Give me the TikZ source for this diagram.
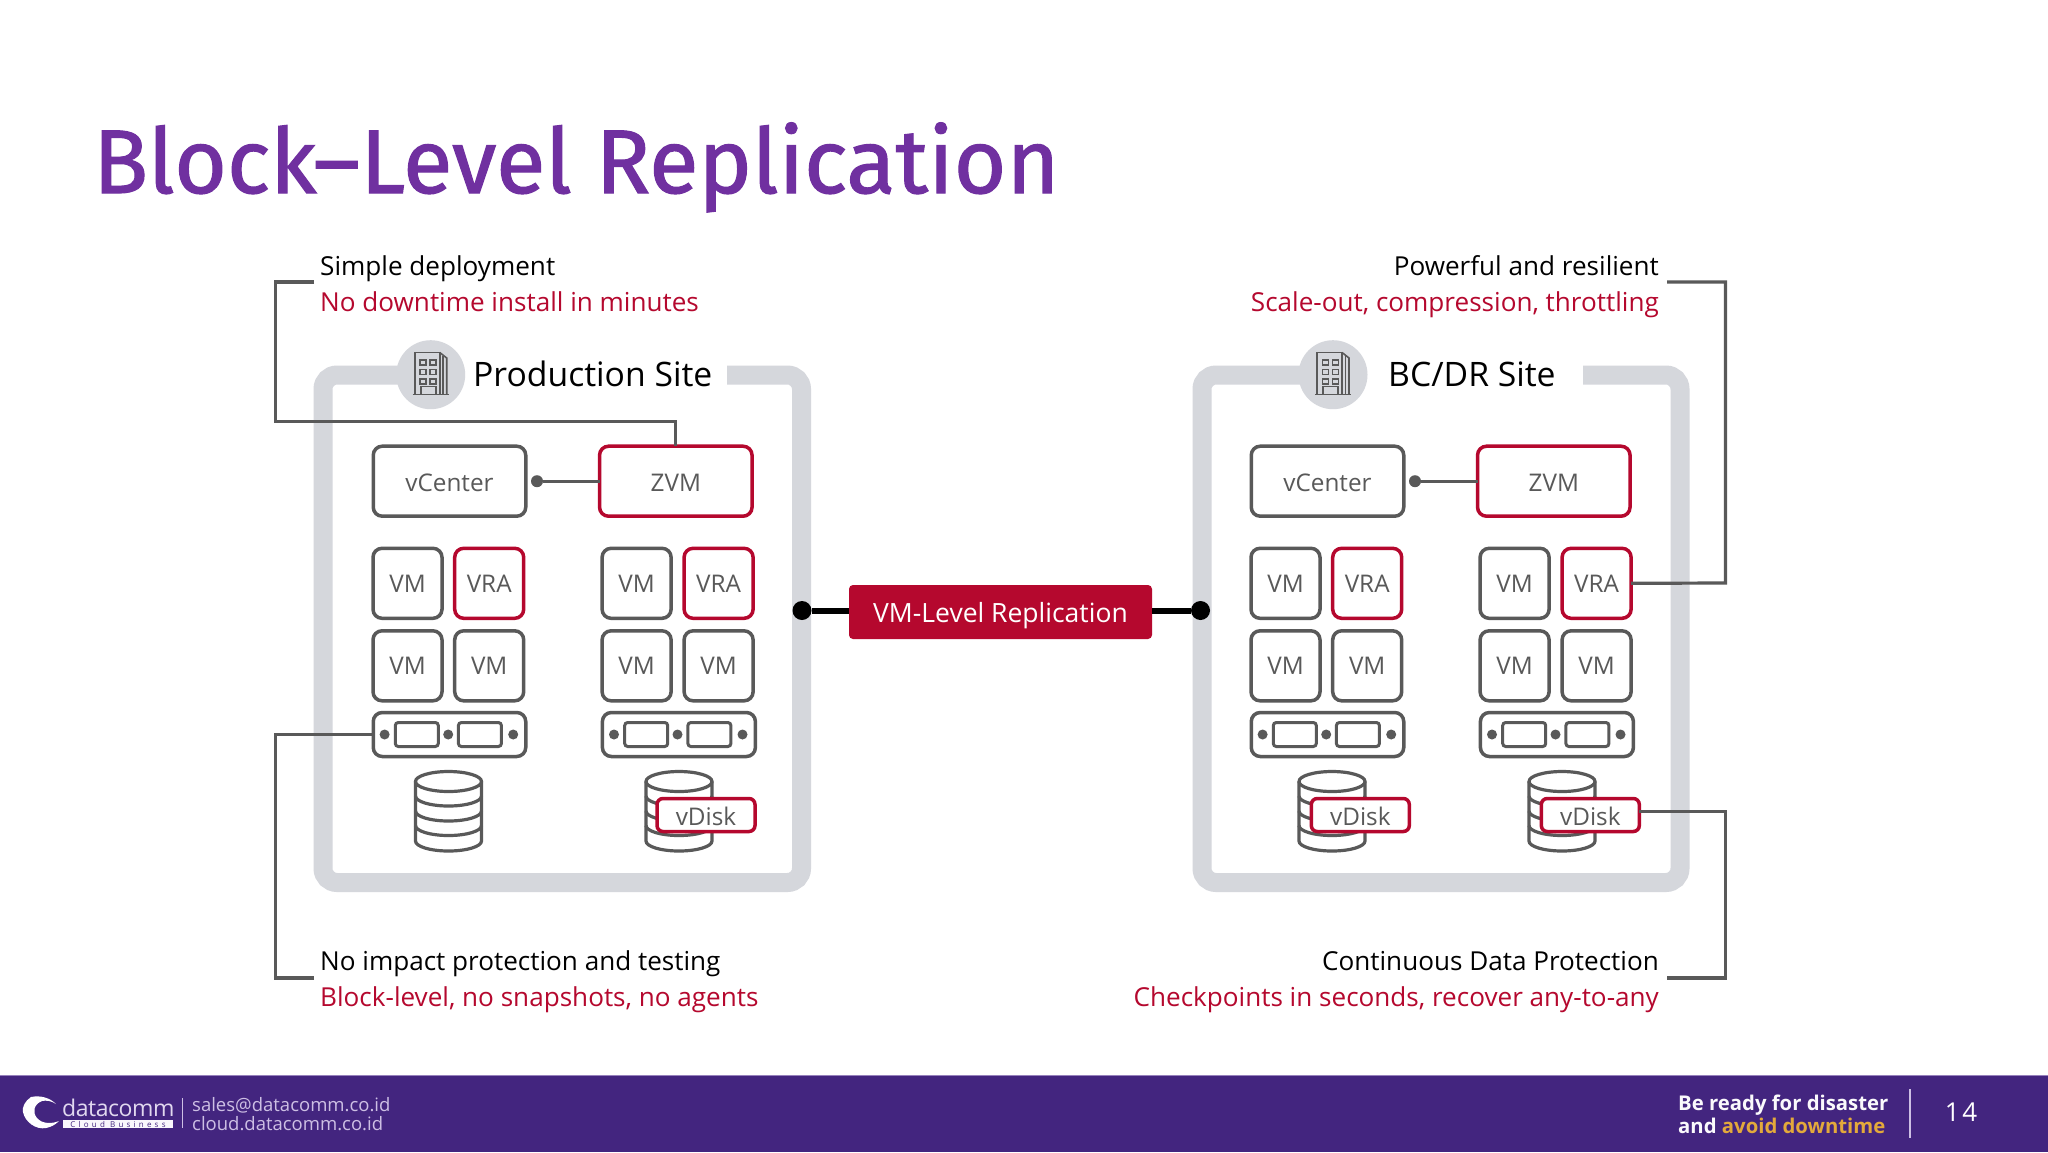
\documentclass[tikz,border=0pt]{standalone}
\usepackage{fontspec}
\setmainfont{Open Sans}
\newfontfamily\titlefont[FakeBold=1.2]{Fira Sans}
\definecolor{panelgray}{HTML}{D5D7DC}
\definecolor{linegray}{HTML}{595959}
\definecolor{zred}{HTML}{B5082E}
\definecolor{titlepurple}{HTML}{7030A0}
\definecolor{footpurple}{HTML}{43257F}
\definecolor{footlav}{HTML}{CDBFE4}
\definecolor{footgold}{HTML}{E3A93B}
\newcommand{\fs}[1]{\fontsize{#1}{#1}\selectfont}
\tikzset{
  panel/.style={draw=panelgray,line width=19pt,rounded corners=14pt},
  boxbase/.style={draw=linegray,fill=white,line width=3.5pt,rounded corners=9pt,text=linegray,font=\fs{24.3},inner sep=0pt,outer sep=0pt,text height=17.5pt,text depth=0pt},
  widebox/.style={boxbase,minimum width=152.5pt,minimum height=70pt,text height=20.5pt},
  vmbox/.style={boxbase,minimum width=69pt,minimum height=70pt},
  redb/.style={draw=zred},
  hostbar/.style={boxbase,minimum height=44pt},
  slot/.style={draw=linegray,fill=white,line width=3pt,rounded corners=3pt,minimum width=43pt,minimum height=24pt,inner sep=0pt},
  hdot/.style={circle,fill=linegray,minimum size=10pt,inner sep=0pt},
  cdot/.style={circle,fill=linegray,minimum size=12pt,inner sep=0pt},
  vdisk/.style={boxbase,draw=zred,rounded corners=6pt,minimum width=98pt,minimum height=33pt,text height=21pt},
  leader/.style={draw=linegray,line width=3.2pt},
  lab/.style={font=\fs{26.1},inner sep=0pt},
  sitehead/.style={font=\fs{33.7},inner sep=0pt},
  stor/.style={draw=linegray,fill=white,line width=3.2pt},
}
% site contents: #1 prefix, #2 x shift
\newcommand{\sitebody}[2]{%
  \begin{scope}[xshift=#2pt]
    \node[widebox] (#1vc) at (449.5,481.2) {vCenter};
    \node[widebox,redb] (#1zvm) at (675.8,481.2) {ZVM};
    \node[cdot] (#1dot) at (537,481.2) {};
    \draw[leader] (#1dot) -- (#1zvm);
    \node[vmbox] (#1a) at (407.5,583.3) {VM};
    \node[vmbox,redb] (#1b) at (489.2,583.3) {VRA};
    \node[vmbox] (#1c) at (407.5,665.8) {VM};
    \node[vmbox] (#1d) at (489.2,665.8) {VM};
    \node[vmbox] (#1e) at (636.6,583.3) {VM};
    \node[vmbox,redb] (#1f) at (718.6,583.3) {VRA};
    \node[vmbox] (#1g) at (636.6,665.8) {VM};
    \node[vmbox] (#1h) at (718.6,665.8) {VM};
    \node[hostbar,minimum width=152.5pt] (#1p) at (449.5,734.5) {};
    \node[slot] (#1p1) at (416.8,734.5) {};
    \node[slot] (#1p2) at (479.9,734.5) {};
    \node[hdot] (#1pd1) at (384.6,734.5) {};
    \node[hdot] (#1pd2) at (448.2,734.5) {};
    \node[hdot] (#1pd3) at (513.2,734.5) {};
    \node[hostbar,minimum width=153pt] (#1q) at (678.9,734.5) {};
    \node[slot] (#1q1) at (646.2,734.5) {};
    \node[slot] (#1q2) at (709.4,734.5) {};
    \node[hdot] (#1qd1) at (614,734.5) {};
    \node[hdot] (#1qd2) at (677.5,734.5) {};
    \node[hdot] (#1qd3) at (742.5,734.5) {};
  \end{scope}}
% cylinder centred at x = #1
\newcommand{\drum}[1]{%
  \begin{scope}[xshift=#1pt]
    \draw[stor] (-33,781.5) -- (-33,841) arc[start angle=180,end angle=0,x radius=33,y radius=10] -- (33,781.5);
    \draw[stor] (0,781.5) ellipse[x radius=33,y radius=10];
    \draw[stor,fill=none] (-33,796) arc[start angle=180,end angle=0,x radius=33,y radius=10];
    \draw[stor,fill=none] (-33,811) arc[start angle=180,end angle=0,x radius=33,y radius=10];
    \draw[stor,fill=none] (-33,825.5) arc[start angle=180,end angle=0,x radius=33,y radius=10];
  \end{scope}}
% building icon centred at x = #1
\newcommand{\bldg}[1]{%
  \begin{scope}[xshift=#1pt,draw=linegray,line width=1.6pt]
    \draw (-18,394.5) -- (18,394.5);
    \draw (-16,394.5) -- (-16,352.5) -- (9,352.5) -- (9,394.5);
    \draw (9,352.5) -- (16,358) -- (16,394.5);
    \draw (12.5,356) -- (12.5,394.5);
    \foreach \wy in {360,369.5,379}{
      \draw (-10.5,\wy) rectangle (-4.5,\wy+5);
      \draw (-0.5,\wy) rectangle (5.5,\wy+5);
    }
    \draw (-10,394.5) -- (-10,386.5) -- (5,386.5) -- (5,394.5);
  \end{scope}}
\begin{document}
\begin{tikzpicture}[x=1pt,y=-1pt]
\useasboundingbox (0,0) rectangle (2048,1152);
\fill[white] (0,0) rectangle (2048,1152);

% title
\node[anchor=base west,inner sep=0pt,text=titlepurple,font=\titlefont\fs{90.4}] (title) at (93,193) {Block–Level Replication};

% panels
\draw[panel] (430.7,375) -- (323,375) -- (323,882.5) -- (801.5,882.5) -- (801.5,375) -- (727,375);
\draw[panel] (1333,375) -- (1202,375) -- (1202,882.5) -- (1680,882.5) -- (1680,375) -- (1583,375);
\node[circle,fill=panelgray,minimum size=69pt,inner sep=0pt] (c1) at (430.7,374.7) {};
\node[circle,fill=panelgray,minimum size=69pt,inner sep=0pt] (c2) at (1333,374.7) {};
\bldg{430.7}
\bldg{1333}
\node[sitehead,anchor=base west] (h1) at (473,386.5) {Production Site};
\node[sitehead,anchor=base west] (h2) at (1388,386.5) {BC/DR Site};

\sitebody{s}{0}
\sitebody{t}{878}

% storage
\drum{448.5}
\drum{679}
\drum{1332}
\drum{1562}
\node[vdisk] (sv) at (706,815) {vDisk};
\node[vdisk] (tv1) at (1360.3,815) {vDisk};
\node[vdisk] (tv2) at (1590.3,815) {vDisk};

% replication link
\node[fill=zred,rounded corners=4pt,text=white,font=\fs{26.5},minimum width=303pt,minimum height=54pt,inner sep=0pt,text height=21pt,text depth=0pt] (rep) at (1000.5,612) {VM-Level Replication};
\node[circle,fill=black,minimum size=19pt,inner sep=0pt] (ld) at (802,610.5) {};
\node[circle,fill=black,minimum size=19pt,inner sep=0pt] (rd) at (1200.5,610.5) {};
\draw[black,line width=6pt] (ld) -- (ld -| rep.west);
\draw[black,line width=6pt] (rd -| rep.east) -- (rd);

% corner labels
\node[lab,anchor=base west] (l1) at (320,275.5) {Simple deployment};
\node[lab,anchor=base west,text=zred] (l1r) at (320,311) {No downtime install in minutes};
\node[lab,anchor=base east] (l2) at (1659,275.5) {Powerful and resilient};
\node[lab,anchor=base east,text=zred] (l2r) at (1659,311) {Scale-out, compression, throttling};
\node[lab,anchor=base west] (l3) at (320,970) {No impact protection and testing};
\node[lab,anchor=base west,text=zred] (l3r) at (320,1006.5) {Block-level, no snapshots, no agents};
\node[lab,anchor=base east] (l4) at (1659,970) {Continuous Data Protection};
\node[lab,anchor=base east,text=zred] (l4r) at (1659,1006.5) {Checkpoints in seconds, recover any-to-any};

% leaders
\coordinate (e1) at (314,282);
\coordinate (e2) at (1667,282);
\coordinate (e3) at (314,978);
\coordinate (e4) at (1667,978);
\draw[leader] (e1) -- (275.5,282) -- (275.5,421.5) -- (szvm.north |- 0,421.5) -- (szvm.north);
\draw[leader] (e2) -- (1725.5,282) -- (1725.5,583) -- (tf.east);
\draw[leader] (e3) -- (275.5,978) -- (275.5,734.5) -- (sp.west);
\draw[leader] (e4) -- (1725.5,978) -- (1725.5,811.5) -- (tv2.east |- 0,811.5);

% footer
\fill[footpurple] (0,1075) rectangle (2048,1152);
\draw[footlav!60!footpurple,line width=1pt] (0,1075) -- (2048,1075);
\fill[white] (31,1097) .. controls (25,1101) and (22,1107) .. (23,1112)
  .. controls (25,1122) and (36,1130) .. (46,1128)
  .. controls (51,1127) and (55,1125) .. (59,1121)
  .. controls (52,1124) and (42,1124) .. (37,1118)
  .. controls (32,1112) and (34,1104) .. (42,1101)
  .. controls (46,1100) and (52,1101) .. (56,1104)
  .. controls (50,1098) and (41,1095) .. (31,1097) -- cycle;
\node[anchor=base west,inner sep=0pt,text=footlav!60!white,font=\fs{23}] (dc) at (62,1116.5) {\addfontfeature{LetterSpace=-2}datacomm};
\node[fill=white!88!footlav,minimum width=110pt,minimum height=8.5pt,inner sep=0pt,text=footpurple,font=\fs{8}] (cb) at (118,1124) {\addfontfeature{LetterSpace=40}Cloud Business};
\draw[footlav,line width=1pt] (182,1098) -- (182,1128);
\node[anchor=base west,inner sep=0pt,text=footlav,font=\fs{18.5}] (m1) at (192,1111.5) {sales@datacomm.co.id};
\node[anchor=base west,inner sep=0pt,text=footlav,font=\fs{18.5}] (m2) at (192,1130) {cloud.datacomm.co.id};
\node[anchor=base west,inner sep=0pt,text=white!90!footlav,font=\bfseries\fs{20.3}] (b1) at (1678,1110) {Be ready for disaster};
\node[anchor=base west,inner sep=0pt,text=white!90!footlav,font=\bfseries\fs{20.3}] (b2) at (1678,1133.5) {and {\color{footgold}avoid downtime}};
\draw[footlav,line width=1.5pt] (1910,1089) -- (1910,1138);
\node[inner sep=0pt,text=white,font=\fs{26}] (pg) at (1961,1112) {\addfontfeature{LetterSpace=10}14};
\end{tikzpicture}
\end{document}
